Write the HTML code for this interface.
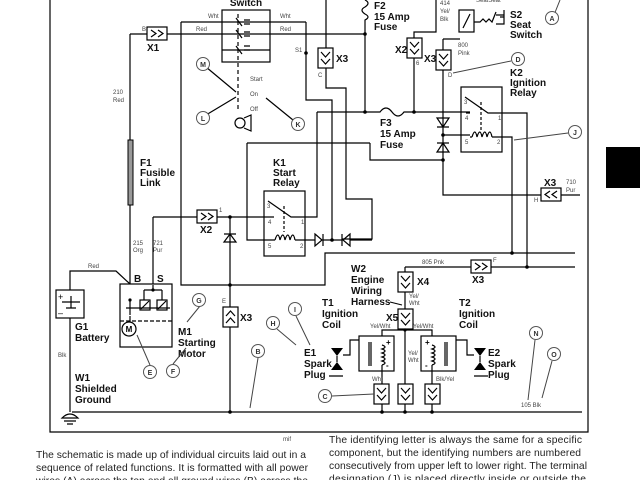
<!DOCTYPE html>
<html><head><meta charset="utf-8"><style>
html,body{margin:0;padding:0;background:#fff;}
svg{display:block;font-family:"Liberation Sans",sans-serif;}
.w{stroke:#000;stroke-width:1.2;fill:none}
.t{font-weight:bold;font-size:10px;fill:#111}
.s{font-size:6px;fill:#444}
.c{fill:#fff;stroke:#555;stroke-width:1}
.cl{font-size:7px;fill:#333;text-anchor:middle;font-weight:bold}
.p{font-size:10.3px;fill:#222}
</style></head><body>
<svg width="640" height="480" viewBox="0 0 640 480" xmlns="http://www.w3.org/2000/svg">
<defs>
<g id="cv"><rect x="0" y="0" width="15" height="20" fill="#fff" stroke="#000" stroke-width="1.2"/><polyline points="3,4 7.5,9 12,4" class="w"/><polyline points="3,11 7.5,16 12,11" class="w"/></g>
<g id="cu"><rect x="0" y="0" width="15" height="20" fill="#fff" stroke="#000" stroke-width="1.2"/><polyline points="3,9 7.5,4 12,9" class="w"/><polyline points="3,16 7.5,11 12,16" class="w"/></g>
<g id="ch"><rect x="0" y="0" width="20" height="13" fill="#fff" stroke="#000" stroke-width="1.2"/><polyline points="4,3 9,6.5 4,10" class="w"/><polyline points="11,3 16,6.5 11,10" class="w"/></g>
<g id="chl"><rect x="0" y="0" width="20" height="13" fill="#fff" stroke="#000" stroke-width="1.2"/><polyline points="9,3 4,6.5 9,10" class="w"/><polyline points="16,3 11,6.5 16,10" class="w"/></g>
</defs>

<!-- frame -->
<path class="w" d="M50,0 V432 H588 V0"/>
<rect x="606" y="147" width="34" height="41" fill="#000"/>

<!-- ground bus -->
<path class="w" d="M72,412 H582"/>
<path class="w" d="M62,418 Q70,410 78,418 Z M64,421 H76 M67,424 H73" fill="#000"/>

<!-- Red wire from X1 to F2, 210 Red -->
<path class="w" d="M130,34 H147 M166,34 H365 M130,34 V140 M130,205 V284"/>
<rect x="128" y="140" width="5" height="65" fill="#999" stroke="#000" stroke-width="1"/>
<use href="#ch" x="147" y="27"/>
<text x="142" y="31" class="s">B</text>
<text x="147" y="51" class="t">X1</text>
<text x="113" y="94" class="s">210</text><text x="113" y="102" class="s">Red</text>
<text x="140" y="166" class="t">F1</text><text x="140" y="176" class="t">Fusible</text><text x="140" y="186" class="t">Link</text>

<!-- switch -->
<rect x="222" y="10" width="48" height="52" class="w"/>
<text x="246" y="6" class="t" text-anchor="middle">Switch</text>
<path class="w" d="M181,22 H306 M222,50 H270"/>
<path class="w" d="M238,14 V110" stroke-dasharray="4,3"/>
<path class="w" d="M236,18 L242,26 M236,30 L242,38 M236,46 L242,54 M244,20 h6 M244,24 h6 M244,32 h6 M244,36 h6 M244,46 h6 M244,50 h6"/>
<text x="208" y="18" class="s">Wht</text><text x="280" y="18" class="s">Wht</text>
<text x="196" y="31" class="s">Red</text><text x="280" y="31" class="s">Red</text>
<text x="250" y="81" class="s">Start</text><text x="250" y="96" class="s">On</text><text x="250" y="111" class="s">Off</text>
<path class="w" d="M206,67 L236,92 M206,115 L236,97 M266,98 L293,120"/>
<circle cx="240" cy="123" r="5" class="w"/><path class="w" d="M244,118 L251,115 V131 L244,128"/>

<!-- Wht down line x=181 -->
<path class="w" d="M181,22 V285 H325 V253 H575"/>
<!-- S1 -->
<circle cx="306" cy="53" r="1.8"/><text x="295" y="52" class="s">S1</text>
<path class="w" d="M306,22 V100 H332 V240"/>
<!-- X3 C -->
<path class="w" d="M326,0 V50 M326,68 V88 H346 V199 H372 V239 H342"/>
<use href="#cv" x="318" y="48"/><text x="336" y="62" class="t">X3</text><text x="318" y="77" class="s">C</text>

<!-- F2 -->
<path class="w" d="M365,0 Q371,3 365,7 Q359,10 365,14 Q371,17 365,20 V112"/>
<circle cx="365" cy="34" r="1.8"/>
<text x="374" y="9" class="t">F2</text><text x="374" y="20" class="t">15 Amp</text><text x="374" y="30" class="t">Fuse</text>

<!-- bus y=112 -->
<path class="w" d="M317,112 H380 Q386,104 392,112 Q398,120 404,112 H470"/>
<circle cx="365" cy="112" r="1.8"/><circle cx="414" cy="112" r="1.8"/>
<text x="380" y="126" class="t">F3</text><text x="380" y="137" class="t">15 Amp</text><text x="380" y="148" class="t">Fuse</text>
<path class="w" d="M317,112 V217 H305"/>

<!-- X2 upper -->
<path class="w" d="M436,0 V32 H414 V38 M414,58 V112"/>
<use href="#cv" x="407" y="38"/><text x="395" y="53" class="t">X2</text><text x="416" y="65" class="s">6</text>
<text x="440" y="5" class="s">414</text><text x="440" y="13" class="s">Yel/</text><text x="440" y="21" class="s">Blk</text>

<!-- X3 D and seat switch -->
<path class="w" d="M443,39 V50 M443,69 V195 H541 M443,39 H460"/>
<use href="#cv" x="436" y="50"/><text x="424" y="62" class="t">X3</text><text x="448" y="77" class="s">D</text>
<rect x="459" y="10" width="15" height="22" class="w"/>
<path class="w" d="M463,28 L470,14 M474,22 h6 l3,-3 l3,3 l3,-3 l3,3 l4,-10 M496,15 h8 M504,10 V24 h-8 M504,17 h-4"/>
<text x="476" y="2" class="s">SeatSeat</text>
<text x="510" y="18" class="t">S2</text><text x="510" y="28" class="t">Seat</text><text x="510" y="38" class="t">Switch</text>
<text x="458" y="47" class="s">800</text><text x="458" y="55" class="s">Pink</text>
<!-- diodes -->
<path d="M437,118 H449 L443,127 Z M437,127 H449" class="w" fill="#fff"/>
<path d="M437,152 H449 L443,143 Z M437,143 H449" class="w" fill="#fff"/>
<circle cx="443" cy="135" r="1.8"/><circle cx="443" cy="160" r="1.8"/>
<path class="w" d="M443,135 H470 M370,143 V160 H443"/>

<!-- K2 -->
<rect x="461" y="87" width="41" height="65" class="w"/>
<path class="w" d="M465,97 L488,113 H502 M470,113 H466"/>
<path class="w" d="M481,102 V130" stroke-dasharray="3,2"/>
<path class="w" d="M472,137 q3,-10 5,0 q3,-10 5,0 q3,-10 5,0 q3,-10 5,0 M470,137 H472 M492,137 H502"/>
<text x="464" y="104" class="s">3</text><text x="465" y="120" class="s">4</text><text x="465" y="144" class="s">5</text><text x="498" y="120" class="s">1</text><text x="497" y="144" class="s">2</text>
<text x="510" y="76" class="t">K2</text><text x="510" y="86" class="t">Ignition</text><text x="510" y="96" class="t">Relay</text>
<path class="w" d="M502,113 H527 V267 M502,137 H512 V253"/>
<circle cx="512" cy="253" r="1.8"/><circle cx="527" cy="267" r="1.8"/>
<path d="M514,140 L568,133" stroke="#444" stroke-width="1"/>
<!-- X3 H 710 -->
<use href="#chl" x="541" y="188"/><path class="w" d="M561,195 H580"/>
<text x="544" y="186" class="t">X3</text><text x="534" y="202" class="s">H</text>
<text x="566" y="184" class="s">710</text><text x="566" y="192" class="s">Pur</text>

<!-- K1 -->
<path class="w" d="M247,143 H370 M247,143 V240 H268"/>
<rect x="264" y="191" width="41" height="65" class="w"/>
<path class="w" d="M268,201 L291,217 H305 M270,217 H274"/>
<path class="w" d="M284,206 V232" stroke-dasharray="3,2"/>
<path class="w" d="M275,240 q3,-10 5,0 q3,-10 5,0 q3,-10 5,0 q3,-10 5,0 M268,240 H275 M295,240 H315"/>
<text x="267" y="208" class="s">3</text><text x="268" y="224" class="s">4</text><text x="268" y="248" class="s">5</text><text x="301" y="224" class="s">1</text><text x="300" y="248" class="s">2</text>
<text x="273" y="166" class="t">K1</text><text x="273" y="176" class="t">Start</text><text x="273" y="186" class="t">Relay</text>
<path d="M315,234 L322,240 L315,246 Z M323,234 V246" class="w" fill="#fff"/>
<path class="w" d="M323,240 H342"/><circle cx="332" cy="240" r="1.8"/>
<path d="M350,234 L343,240 L350,246 Z M342,234 V246" class="w" fill="#fff"/>
<path class="w" d="M350,240 H372"/>

<!-- X2 lower -->
<path class="w" d="M153,217 H197 M216,217 H270"/>
<use href="#ch" x="197" y="210"/><text x="200" y="233" class="t">X2</text><text x="219" y="212" class="s">1</text>
<circle cx="230" cy="217" r="1.8"/>
<path class="w" d="M230,217 V307 M230,327 V412"/>
<path d="M224,242 H236 L230,234 Z M224,234 H236" class="w" fill="#fff"/>
<circle cx="230" cy="285" r="1.8"/><circle cx="230" cy="412" r="1.8"/>
<use href="#cu" x="223" y="307"/><text x="240" y="321" class="t">X3</text><text x="222" y="303" class="s">E</text>

<!-- starter -->
<path class="w" d="M153,217 V284"/>
<text x="133" y="245" class="s">215</text><text x="133" y="252" class="s">Org</text>
<text x="153" y="245" class="s">721</text><text x="153" y="252" class="s">Pur</text>
<rect x="120" y="284" width="52" height="63" class="w"/>
<path class="w" d="M120,321 H172" stroke-dasharray="4,2"/>
<text x="134" y="282" class="t">B</text><text x="157" y="282" class="t">S</text>
<path class="w" d="M130,300 V315 M126,308 H170 M153,285 V290 M144,290 H162 M144,290 V300 M162,290 V300"/>
<rect x="140" y="300" width="10" height="10" class="w" fill="#fff"/><rect x="157" y="300" width="10" height="10" class="w"/>
<path class="w" d="M141,309 L149,301 M158,309 L166,301 M130,316 V322"/>
<circle cx="130" cy="300" r="1.6"/><circle cx="153" cy="290" r="1.6"/>
<circle cx="129" cy="329" r="7" class="w"/><text x="129" y="332" font-size="8" font-weight="bold" text-anchor="middle">M</text>
<text x="178" y="335" class="t">M1</text><text x="178" y="346" class="t">Starting</text><text x="178" y="357" class="t">Motor</text>
<!-- battery -->
<path class="w" d="M70,290 V271 H116 L130,284 M70,318 V412"/>
<rect x="56" y="290" width="28" height="28" class="w"/>
<path class="w" d="M62,302 H80 M66,308 H76 M71,296 V308"/>
<text x="58" y="300" font-size="9">+</text><text x="58" y="316" font-size="9">–</text>
<text x="88" y="268" class="s">Red</text>
<text x="75" y="330" class="t">G1</text><text x="75" y="341" class="t">Battery</text>
<text x="58" y="357" class="s">Blk</text>
<text x="75" y="381" class="t">W1</text><text x="75" y="392" class="t">Shielded</text><text x="75" y="403" class="t">Ground</text>

<!-- lower right -->
<path class="w" d="M405,267 H575 M405,267 V272 M405,291 V309 M405,328 V384 M405,403 V412"/>
<use href="#ch" x="471" y="260"/><text x="472" y="283" class="t">X3</text><text x="493" y="262" class="s">F</text>
<text x="422" y="264" class="s">805 Pnk</text>
<use href="#cv" x="398" y="272"/><text x="417" y="285" class="t">X4</text>
<use href="#cv" x="398" y="309"/><text x="386" y="321" class="t">X5</text>
<text x="409" y="298" class="s">Yel/</text><text x="409" y="305" class="s">Wht</text>
<text x="351" y="272" class="t">W2</text><text x="351" y="283" class="t">Engine</text><text x="351" y="294" class="t">Wiring</text><text x="351" y="305" class="t">Harness</text>
<path d="M390,302 L402,305" stroke="#000" stroke-width="1"/>
<text x="370" y="328" class="s">Yel/Wht</text><text x="413" y="328" class="s">Yel/Wht</text>
<circle cx="405" cy="330" r="1.6"/>
<path class="w" d="M405,330 H382 V336 M405,330 H432 V336"/>
<text x="408" y="355" class="s">Yel/</text><text x="408" y="362" class="s">Wht</text>
<!-- T1 -->
<rect x="359" y="336" width="35" height="35" class="w"/>
<path class="w" d="M369,342 V366 M371,342 V366 M382,345 q6,2 0,4 q6,2 0,4 q6,2 0,4 q6,2 0,4 q6,2 0,4 M382,365 V384 M359,340 H350 V355 H343"/>
<text x="386" y="345" font-size="8" font-weight="bold">+</text><text x="386" y="368" font-size="8" font-weight="bold">-</text>
<use href="#cv" x="374" y="384"/><path class="w" d="M382,404 V412"/>
<text x="372" y="381" class="s">Wht</text>
<!-- T2 -->
<rect x="421" y="336" width="35" height="35" class="w"/>
<path class="w" d="M445,342 V366 M447,342 V366 M432,345 q6,2 0,4 q6,2 0,4 q6,2 0,4 q6,2 0,4 q6,2 0,4 M432,365 V384 M456,340 H467 V355 H474"/>
<text x="425" y="345" font-size="8" font-weight="bold">+</text><text x="425" y="368" font-size="8" font-weight="bold">-</text>
<use href="#cv" x="425" y="384"/><path class="w" d="M432,404 V412"/>
<text x="436" y="381" class="s">Blk/Yel</text>
<use href="#cv" x="398" y="384"/>
<circle cx="382" cy="412" r="1.8"/><circle cx="405" cy="412" r="1.8"/><circle cx="432" cy="412" r="1.8"/>
<!-- spark plugs -->
<path d="M331,348 H343 L337,356 Z M331,370 H343 L337,362 Z" fill="#000"/>
<path class="w" d="M337,356 V362 M329,376 H343"/>
<path d="M474,348 H486 L480,356 Z M474,370 H486 L480,362 Z" fill="#000"/>
<path class="w" d="M480,356 V362 M474,376 H488"/>
<text x="322" y="306" class="t">T1</text><text x="322" y="317" class="t">Ignition</text><text x="322" y="328" class="t">Coil</text>
<text x="459" y="306" class="t">T2</text><text x="459" y="317" class="t">Ignition</text><text x="459" y="328" class="t">Coil</text>
<text x="304" y="356" class="t">E1</text><text x="304" y="367" class="t">Spark</text><text x="304" y="378" class="t">Plug</text>
<text x="488" y="356" class="t">E2</text><text x="488" y="367" class="t">Spark</text><text x="488" y="378" class="t">Plug</text>
<text x="521" y="407" class="s">105 Blk</text>
<text x="283" y="441" class="s">mif</text>

<!-- callout leaders -->
<g stroke="#444" stroke-width="1">
<path d="M200,306 L187,322 M150,365 L137,335 M173,364 L186,348 M277,329 L296,345 M296,316 L310,345 M258,358 L250,408 M332,396 L374,394 M535,340 L528,400 M552,361 L542,398 M511,61 L453,73 M550,25 L560,0"/>
</g>
<g>
<circle cx="203" cy="64" r="6.5" class="c"/><text x="203" y="67" class="cl">M</text>
<circle cx="203" cy="118" r="6.5" class="c"/><text x="203" y="121" class="cl">L</text>
<circle cx="298" cy="124" r="6.5" class="c"/><text x="298" y="127" class="cl">K</text>
<circle cx="199" cy="300" r="6.5" class="c"/><text x="199" y="303" class="cl">G</text>
<circle cx="150" cy="372" r="6.5" class="c"/><text x="150" y="375" class="cl">E</text>
<circle cx="173" cy="371" r="6.5" class="c"/><text x="173" y="374" class="cl">F</text>
<circle cx="273" cy="323" r="6.5" class="c"/><text x="273" y="326" class="cl">H</text>
<circle cx="295" cy="309" r="6.5" class="c"/><text x="295" y="312" class="cl">I</text>
<circle cx="258" cy="351" r="6.5" class="c"/><text x="258" y="354" class="cl">B</text>
<circle cx="325" cy="396" r="6.5" class="c"/><text x="325" y="399" class="cl">C</text>
<circle cx="536" cy="333" r="6.5" class="c"/><text x="536" y="336" class="cl">N</text>
<circle cx="554" cy="354" r="6.5" class="c"/><text x="554" y="357" class="cl">O</text>
<circle cx="552" cy="18" r="6.5" class="c"/><text x="552" y="21" class="cl">A</text>
<circle cx="518" cy="59" r="6.5" class="c"/><text x="518" y="62" class="cl">D</text>
<circle cx="575" cy="132" r="6.5" class="c"/><text x="575" y="135" class="cl">J</text>
</g>

<!-- paragraphs -->
<text x="36" y="458" class="p" textLength="270">The schematic is made up of individual circuits laid out in a</text>
<text x="36" y="471" class="p" textLength="272">sequence of related functions. It is formatted with all power</text>
<text x="36" y="484" class="p" textLength="272">wires (A) across the top and all ground wires (B) across the</text>
<text x="329" y="443" class="p" textLength="253">The identifying letter is always the same for a specific</text>
<text x="329" y="456" class="p" textLength="252">component, but the identifying numbers are numbered</text>
<text x="329" y="469" class="p" textLength="258">consecutively from upper left to lower right. The terminal</text>
<text x="329" y="482" class="p" textLength="257">designation (J) is placed directly inside or outside the</text>
</svg>
</body></html>
